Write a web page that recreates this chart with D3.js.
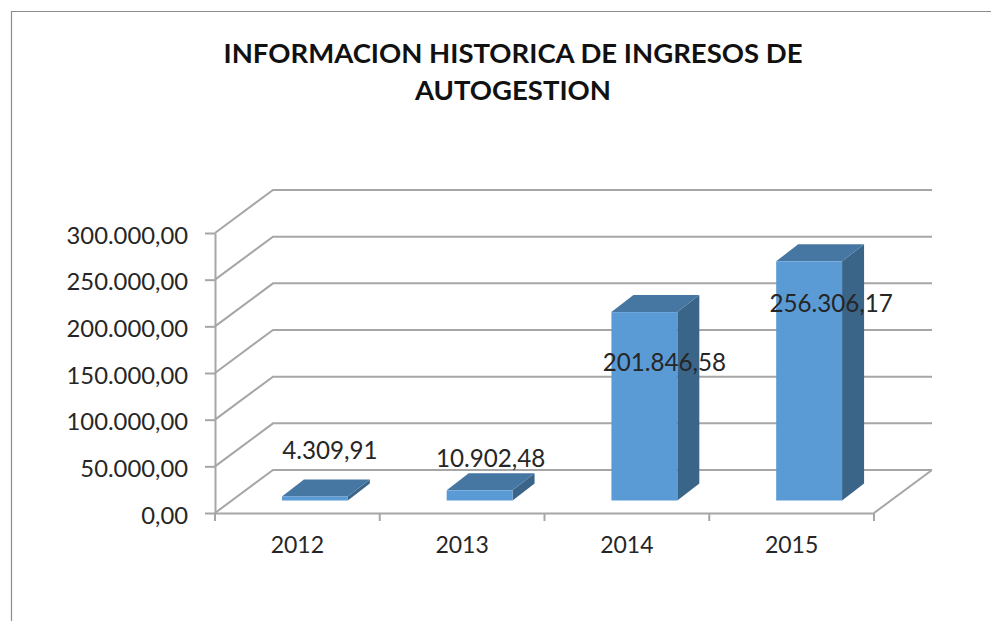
<!DOCTYPE html>
<html>
<head>
<meta charset="utf-8">
<script src="https://cdnjs.cloudflare.com/ajax/libs/d3/7.8.5/d3.min.js"></script>
<style>
  html, body { margin: 0; padding: 0; background: #fff; }
  svg { display: block; }
  text { font-family: Lato, "Open Sans", sans-serif; fill: #262626; }
</style>
</head>
<body>
<div id="chart"></div>
<script>
const years = ["2012", "2013", "2014", "2015"];
const ingresos = [4309.91, 10902.48, 201846.58, 256306.17];
const valueLabels = ["4.309,91", "10.902,48", "201.846,58", "256.306,17"];
const yTicks = [0, 50000, 100000, 150000, 200000, 250000, 300000];
const yTickLabels = ["0,00", "50.000,00", "100.000,00", "150.000,00", "200.000,00", "250.000,00", "300.000,00"];
const titleLines = ["INFORMACION HISTORICA DE INGRESOS DE", "AUTOGESTION"];

// set the dimensions and margins of the graph
const width = 991, height = 621;
const margin = {top: 233, left: 215};
const plotW = 659, plotH = 280;
const depth = {x: 58, y: -43};     // floor depth of the 3d box
const barDepth = {x: 22, y: -17};  // depth of each column
const barShift = {x: 17.5, y: -12.5};  // columns stand in the middle of the floor

const svg = d3.select("#chart")
    .append("svg")
    .attr("width", width)
    .attr("height", height);

// outer frame, only top and left show in the picture
svg.append("path")
    .attr("d", "M11.5,621V11.5H991")
    .attr("fill", "none")
    .attr("stroke", "#8c8c8c")
    .attr("stroke-width", 1.2);

svg.append("g")
    .selectAll("text")
    .data(titleLines)
    .join("text")
    .attr("x", 513)
    .attr("y", (d, i) => 63 + i * 37)
    .attr("text-anchor", "middle")
    .style("font-size", "27.5px")
    .style("font-weight", "bold")
    .style("fill", "#111")
    .text(d => d);

const g = svg.append("g")
    .attr("transform", `translate(${margin.left}, ${margin.top})`);

// Build scales
const x = d3.scaleBand()
    .range([0, plotW])
    .domain(years)
    .paddingInner(0)
    .paddingOuter(0);

const y = d3.scaleLinear()
    .domain([0, 300000])
    .range([plotH, 0]);

const gridColor = "#a6a6a6";

// gridlines: side wall diagonal + back wall line
g.append("g")
    .selectAll("path")
    .data(yTicks)
    .join("path")
    .attr("d", d => `M0,${y(d)}L${depth.x},${y(d) + depth.y}H${plotW + depth.x}`)
    .attr("fill", "none")
    .attr("stroke", gridColor)
    .attr("stroke-width", 2);

// floor front right edge
g.append("path")
    .attr("d", `M${plotW},${y(0)}L${plotW + depth.x},${y(0) + depth.y}`)
    .attr("fill", "none")
    .attr("stroke", gridColor)
    .attr("stroke-width", 2);

// axes
const yAxis = g.append("g")
    .call(d3.axisLeft(y)
        .tickValues(yTicks)
        .tickSize(10)
        .tickSizeOuter(0)
        .tickPadding(17)
        .tickFormat((d, i) => yTickLabels[i]));

const xEdges = d3.axisBottom(x).tickSize(0).tickPadding(24);
const xAxis = g.append("g")
    .attr("transform", `translate(0, ${plotH})`)
    .call(xEdges);

// tick marks between the categories
xAxis.selectAll(".edge")
    .data(d3.range(years.length + 1))
    .join("line")
    .attr("class", "edge")
    .attr("x1", i => i * x.step())
    .attr("x2", i => i * x.step())
    .attr("y1", 0)
    .attr("y2", 8);

[yAxis, xAxis].forEach(a => {
    a.selectAll(".domain, line")
        .attr("stroke", gridColor)
        .attr("stroke-width", 2);
    a.selectAll("text")
        .attr("fill", "#262626");
});
yAxis.selectAll("text").style("font-size", "23.8px").attr("dy", "0.42em");
xAxis.selectAll("text").style("font-size", "23px");
xAxis.select(".domain").attr("d", `M0,0.5H${plotW}`);

// columns
const barW = x.bandwidth() * 0.4;
const bars = g.append("g")
    .selectAll("g")
    .data(years.map((year, i) => ({year, value: ingresos[i], label: valueLabels[i]})))
    .join("g")
    .attr("transform", d => `translate(${x(d.year) + (x.bandwidth() - barW) / 2 + barShift.x}, ${barShift.y})`);

const barH = d => y(0) - y(d.value);

// side face
bars.append("path")
    .attr("d", d => `M${barW},${y(d.value)}l${barDepth.x},${barDepth.y}v${barH(d)}l${-barDepth.x},${-barDepth.y}Z`)
    .attr("fill", "#3a6589");

// top face
bars.append("path")
    .attr("d", d => `M0,${y(d.value)}l${barDepth.x},${barDepth.y}h${barW}l${-barDepth.x},${-barDepth.y}Z`)
    .attr("fill", "#4677a3");

// front face
bars.append("rect")
    .attr("x", 0)
    .attr("y", d => y(d.value))
    .attr("width", barW)
    .attr("height", d => barH(d))
    .attr("fill", "#5b9bd5");

// data labels, moved by hand in the original chart
const labelDx = [15, 11, 20, 22];
const labelDy = [-46, -32, 50, 42];

bars.append("text")
    .attr("x", (d, i) => barW / 2 + labelDx[i])
    .attr("y", (d, i) => y(d.value) + labelDy[i])
    .attr("dy", "0.35em")
    .attr("text-anchor", "middle")
    .style("font-size", "24.2px")
    .text(d => d.label);
</script>
</body>
</html>
